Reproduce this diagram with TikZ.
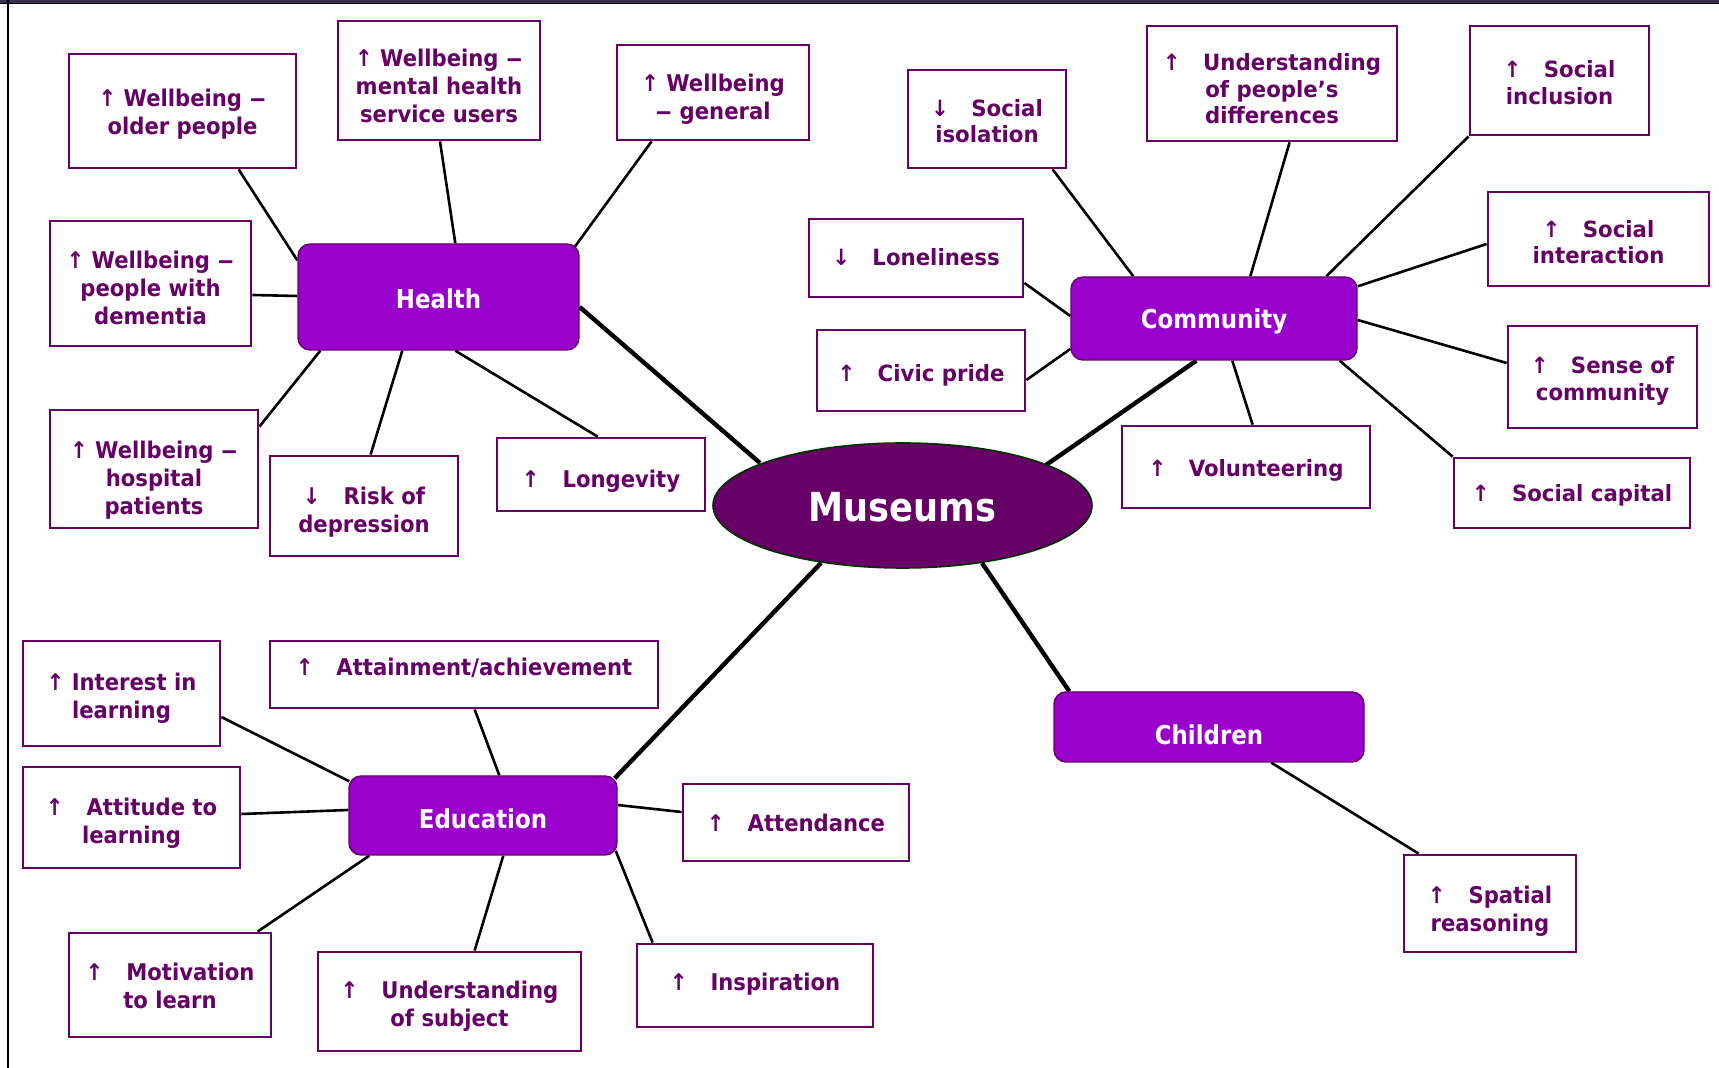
\documentclass[tikz,border=0pt]{standalone}
\usepackage{fontspec}
\usepackage{graphicx}
\usetikzlibrary{calc,shapes.geometric}
\newfontfamily\tfont[FakeStretch=0.92]{DejaVu Sans}
\newfontfamily\vfont[FakeStretch=0.95]{DejaVu Sans}
\newfontfamily\hfont[FakeStretch=0.88]{DejaVu Sans}
\newcommand\nd{\scalebox{1.6}[1]{–}}
\definecolor{pc}{HTML}{660066}
\definecolor{hub}{HTML}{9900CC}
\definecolor{edgegreen}{HTML}{003300}
\definecolor{topbar}{HTML}{3D2D4D}
\pgfdeclarelayer{bg}
\pgfsetlayers{bg,main}
\begin{document}
\begin{tikzpicture}[x=0.5pt,y=-0.5pt,
  box/.style={draw=pc, line width=1.4pt, fill=white, inner sep=0pt},
  lt/.style={text=pc, align=center, inner sep=0pt, font=\tfont\bfseries\fontsize{11.5}{14}\selectfont},
  rt/.style={text=pc, align=center, inner sep=0pt, font=\vfont\bfseries\fontsize{11.2}{13.3}\selectfont},
  ht/.style={text=white, align=center, inner sep=0pt, font=\hfont\bfseries\fontsize{13}{15}\selectfont},
  hubbox/.style={draw=pc, line width=0.7pt, fill=hub, rounded corners=6pt, inner sep=0pt},
  conn/.style={line width=1.3pt, black},
  trunk/.style={line width=2.2pt, black}]
\useasboundingbox (0,0) rectangle (1719,1068);
% frame
\fill[topbar] (0,0) rectangle (1719,3);
\draw[black, line width=0.8pt] (0,3.5) -- (1719,3.5);
\draw[black, line width=1.3pt] (8,0) -- (8,1068);

% centre
\node[ellipse, draw=edgegreen, line width=0.8pt, fill=pc, inner sep=0pt,
  minimum width=189.5pt, minimum height=62.5pt,
  label={[text=white, inner sep=0pt, font=\hfont\bfseries\fontsize{20}{24}\selectfont, yshift=-1pt]center:Museums}] (mus) at (902.5,505.5) {};

% Health
\node[hubbox, minimum width=140.5pt, minimum height=53pt, label={[ht, yshift=-1pt]center:Health}] (health) at (438.5,297) {};
\node[box, minimum width=113.5pt, minimum height=57pt, label={[lt, yshift=-1.5pt]center:{↑ Wellbeing \nd\\older people}}] (hOld) at (182.5,111) {};
\node[box, minimum width=101pt, minimum height=59.5pt, label={[lt, yshift=-2.75pt]center:{↑ Wellbeing \nd\\mental health\\service users}}] (hMental) at (439,80.5) {};
\node[box, minimum width=96pt, minimum height=47.5pt, label={[lt, yshift=-3.25pt]center:{↑ Wellbeing\\\nd\ general}}] (hGen) at (713,92.5) {};
\node[box, minimum width=100.5pt, minimum height=62.5pt, label={[lt, yshift=-2.25pt]center:{↑ Wellbeing \nd\\people with\\dementia}}] (hDem) at (150.5,283.5) {};
\node[box, minimum width=104pt, minimum height=59pt, label={[lt, yshift=-5.5pt]center:{↑ Wellbeing \nd\\hospital\\patients}}] (hHosp) at (154,469) {};
\node[box, minimum width=94pt, minimum height=50pt, label={[lt, yshift=-3pt]center:{↓\quad Risk of\\depression}}] (hRisk) at (364,506) {};
\node[box, minimum width=104pt, minimum height=36.5pt, label={[lt, yshift=-3.25pt]center:{↑\quad Longevity}}] (hLong) at (601,474.5) {};

% Community
\node[hubbox, minimum width=143pt, minimum height=41.5pt, label={[ht, yshift=-1.5pt]center:Community}] (comm) at (1214,318.5) {};
\node[box, minimum width=79pt, minimum height=49pt, label={[rt, yshift=-1pt]center:{↓\quad Social\\isolation}}] (cIso) at (987,119) {};
\node[box, minimum width=125pt, minimum height=57.5pt, label={[rt, yshift=-2.75pt]center:{↑\quad Understanding\\of people’s\\differences}}] (cDiff) at (1272,83.5) {};
\node[box, minimum width=89.5pt, minimum height=54.5pt, label={[rt, yshift=-1pt]center:{↑\quad Social\\inclusion}}] (cIncl) at (1559.5,80.5) {};
\node[box, minimum width=107pt, minimum height=39pt, label={[rt, yshift=0.5pt]center:{↓\quad Loneliness}}] (cLone) at (916,258) {};
\node[box, minimum width=104pt, minimum height=40.5pt, label={[rt, yshift=-2.25pt]center:{↑\quad Civic pride}}] (cCivic) at (921,370.5) {};
\node[box, minimum width=110.5pt, minimum height=47pt, label={[rt, yshift=-1.5pt]center:{↑\quad Social\\interaction}}] (cInter) at (1598.5,239) {};
\node[box, minimum width=94.5pt, minimum height=51pt, label={[rt, yshift=-2pt]center:{↑\quad Sense of\\community}}] (cSense) at (1602.5,377) {};
\node[box, minimum width=124pt, minimum height=41pt, label={[rt, yshift=-1.5pt]center:{↑\quad Volunteering}}] (cVol) at (1246,467) {};
\node[box, minimum width=118pt, minimum height=35pt, label={[rt, yshift=-1pt]center:{↑\quad Social capital}}] (cCap) at (1572,493) {};

% Children
\node[hubbox, minimum width=155pt, minimum height=35pt, label={[ht, yshift=-3.75pt]center:Children}] (child) at (1209,727) {};
\node[box, minimum width=86pt, minimum height=48.5pt, label={[lt, yshift=-3.75pt]center:{↑\quad Spatial\\reasoning}}] (kSpat) at (1490,903.5) {};

% Education
\node[hubbox, minimum width=134pt, minimum height=39.5pt, label={[ht, yshift=-1.5pt]center:Education}] (edu) at (483,815.5) {};
\node[box, minimum width=98.5pt, minimum height=52.5pt, label={[lt, yshift=-2.25pt]center:{↑ Interest in\\learning}}] (eInt) at (121.5,693.5) {};
\node[box, minimum width=194pt, minimum height=33.5pt, label={[lt, yshift=3.25pt]center:{↑\quad Attainment/achievement}}] (eAttain) at (464,674.5) {};
\node[box, minimum width=108.5pt, minimum height=50.5pt, label={[lt, yshift=-2.75pt]center:{↑\quad Attitude to\\learning}}] (eAttit) at (131.5,817.5) {};
\node[box, minimum width=113pt, minimum height=38.5pt, label={[lt]center:{↑\quad Attendance}}] (eAttend) at (796,822.5) {};
\node[box, minimum width=101pt, minimum height=52pt, label={[lt, yshift=-0.5pt]center:{↑\quad Motivation\\to learn}}] (eMot) at (170,985) {};
\node[box, minimum width=131.5pt, minimum height=49.5pt, label={[lt, yshift=-2.5pt]center:{↑\quad Understanding\\of subject}}] (eSubj) at (449.5,1001.5) {};
\node[box, minimum width=118pt, minimum height=41.5pt, label={[lt, yshift=0.5pt]center:{↑\quad Inspiration}}] (eInsp) at (755,985.5) {};

\begin{pgfonlayer}{bg}
% Health
\draw[conn] ($(hOld.south west)+(171,0)$) -- ($(health.north west)+(0,17)$);
\draw[conn] ($(hMental.south)+(1,0)$) -- ($(health.north west)+(158,0)$);
\draw[conn] ($(hGen.south west)+(36,0)$) -- ($(health.north east)+(-6,5)$);
\draw[conn] ($(hDem.east)+(0,11.5)$) -- ($(health.west)+(0,-1)$);
\draw[conn] ($(hHosp.north east)+(0,18)$) -- ($(health.south west)+(23,0)$);
\draw[conn] ($(hRisk.north west)+(102,0)$) -- ($(health.south west)+(105,0)$);
\draw[conn] ($(hLong.north west)+(102,0)$) -- ($(health.south west)+(158,0)$);
\draw[trunk] ($(health.east)+(0,10)$) -- ($(mus.center)+(-142.5,-42.5)$);
% Community
\draw[conn] ($(cIso.south west)+(146,0)$) -- ($(comm.north west)+(63,0)$);
\draw[conn] ($(cDiff.south west)+(144,0)$) -- ($(comm.north west)+(180,0)$);
\draw[conn] (cIncl.south west) -- ($(comm.north west)+(256,0)$);
\draw[conn] ($(cLone.east)+(0,25)$) -- ($(comm.west)+(0,-2.5)$);
\draw[conn] ($(cCivic.east)+(0,9.5)$) -- ($(comm.west)+(0,30.5)$);
\draw[conn] ($(cInter.west)+(0,5)$) -- ($(comm.north east)+(0,10)$);
\draw[conn] ($(cSense.west)+(0,-14)$) -- ($(comm.east)+(0,1.5)$);
\draw[conn] (cCap.north west) -- ($(comm.south east)+(-18,0)$);
\draw[conn] ($(cVol.north west)+(132,0)$) -- ($(comm.south west)+(162,0)$);
\draw[trunk] ($(comm.south west)+(126,0)$) -- ($(mus.center)+(143.5,-40.5)$);
% Children
\draw[trunk] ($(mus.center)+(79.5,57.5)$) -- ($(child.north west)+(16,0)$);
\draw[conn] ($(child.south west)+(218,0)$) -- ($(kSpat.north west)+(16,0)$);
% Education
\draw[trunk] ($(mus.center)+(-81.5,57.5)$) -- ($(edu.north east)+(-3,3)$);
\draw[conn] ($(eInt.east)+(0,23.5)$) -- ($(edu.north west)+(1,6)$);
\draw[conn] ($(eAttain.south west)+(206,0)$) -- ($(edu.north west)+(151,0)$);
\draw[conn] ($(eAttit.east)+(0,-3.5)$) -- ($(edu.west)+(0,-5.5)$);
\draw[conn] ($(eMot.north west)+(190,0)$) -- ($(edu.south west)+(21,0)$);
\draw[conn] ($(eSubj.north west)+(158,0)$) -- ($(edu.south west)+(155,0)$);
\draw[conn] ($(eAttend.west)+(0,-10.5)$) -- ($(edu.east)+(0,-10.5)$);
\draw[conn] ($(eInsp.north west)+(17,0)$) -- ($(edu.south east)+(-2,-5)$);
\end{pgfonlayer}
\end{tikzpicture}
\end{document}
